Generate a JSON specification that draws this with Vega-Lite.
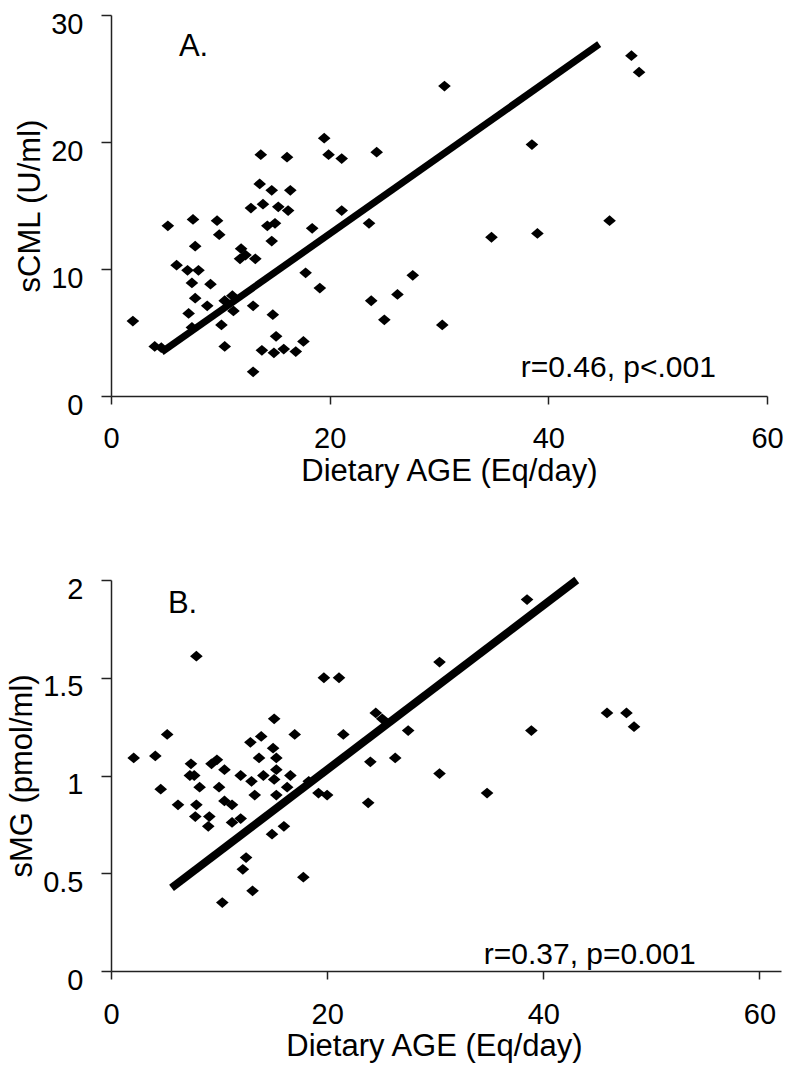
{
  "$schema": "https://vega.github.io/schema/vega-lite/v6.json",
  "background": "white",
  "padding": {"left": 6, "top": 10, "right": 6, "bottom": 4},
  "config": {
    "view": {"stroke": null},
    "font": "Liberation Sans",
    "axis": {
      "grid": false,
      "domainColor": "#222222",
      "domainWidth": 1.5,
      "tickColor": "#222222",
      "tickWidth": 1.5,
      "labelColor": "#000000",
      "titleColor": "#000000",
      "labelFont": "Liberation Sans",
      "titleFont": "Liberation Sans",
      "labelFontSize": 29,
      "titleFontSize": 31,
      "titleFontWeight": "normal",
      "labelFlush": false,
      "labelOverlap": false
    }
  },
  "datasets": {
    "a_pts": [
      {"x":2.0,"y":5.9},{"x":4.0,"y":3.9},{"x":4.6,"y":3.8},{"x":5.2,"y":13.4},{"x":6.0,"y":10.3},{"x":7.0,"y":9.9},{"x":8.0,"y":9.9},{"x":7.4,"y":8.9},{"x":9.1,"y":8.8},{"x":7.7,"y":7.7},{"x":8.8,"y":7.1},{"x":7.1,"y":6.5},{"x":7.4,"y":5.4},{"x":7.5,"y":13.9},{"x":7.7,"y":11.8},{"x":9.7,"y":13.8},{"x":9.9,"y":12.7},{"x":10.1,"y":5.6},{"x":10.4,"y":3.9},{"x":10.4,"y":7.5},{"x":11.1,"y":7.9},{"x":11.2,"y":6.7},{"x":11.9,"y":11.6},{"x":11.8,"y":10.8},{"x":12.3,"y":11.1},{"x":13.2,"y":10.8},{"x":12.8,"y":14.8},{"x":13.6,"y":16.7},{"x":13.9,"y":15.1},{"x":13.7,"y":19.0},{"x":13.0,"y":7.1},{"x":13.0,"y":1.9},{"x":13.8,"y":3.6},{"x":14.9,"y":3.4},{"x":15.1,"y":4.7},{"x":14.8,"y":6.4},{"x":15.8,"y":3.7},{"x":16.9,"y":3.5},{"x":17.6,"y":4.3},{"x":14.7,"y":16.2},{"x":16.4,"y":16.2},{"x":16.1,"y":18.8},{"x":15.3,"y":14.9},{"x":16.2,"y":14.6},{"x":14.3,"y":13.4},{"x":15.0,"y":13.6},{"x":14.7,"y":12.2},{"x":17.8,"y":9.7},{"x":18.4,"y":13.2},{"x":19.1,"y":8.5},{"x":19.5,"y":20.3},{"x":19.9,"y":19.0},{"x":21.1,"y":18.7},{"x":21.1,"y":14.6},{"x":24.3,"y":19.2},{"x":23.6,"y":13.6},{"x":23.8,"y":7.5},{"x":25.0,"y":6.0},{"x":26.2,"y":8.0},{"x":27.6,"y":9.5},{"x":30.5,"y":24.4},{"x":38.5,"y":19.8},{"x":45.6,"y":13.8},{"x":34.8,"y":12.5},{"x":39.0,"y":12.8},{"x":47.6,"y":26.8},{"x":48.3,"y":25.5},{"x":30.3,"y":5.6}
    ],
    "a_line": [{"x":4.63,"y":3.46},{"x":44.65,"y":27.7}],
    "a_text": [{"x":7.55,"y":27.5,"label":"A."}],
    "a_stat": [{"x":46.4,"y":2.2,"label":"r=0.46, p<.001"}],
    "b_pts": [
      {"x":2.1,"y":1.09},{"x":4.1,"y":1.10},{"x":5.2,"y":1.21},{"x":4.6,"y":0.93},{"x":6.2,"y":0.85},{"x":7.4,"y":1.06},{"x":7.3,"y":1.0},{"x":7.7,"y":1.0},{"x":8.2,"y":0.94},{"x":7.9,"y":0.85},{"x":7.8,"y":0.79},{"x":9.1,"y":0.79},{"x":9.0,"y":0.74},{"x":9.8,"y":1.08},{"x":9.3,"y":1.06},{"x":10.5,"y":1.03},{"x":10.0,"y":0.94},{"x":10.5,"y":0.87},{"x":11.2,"y":0.85},{"x":11.2,"y":0.76},{"x":12.0,"y":0.78},{"x":12.0,"y":1.0},{"x":13.0,"y":0.97},{"x":13.3,"y":0.90},{"x":12.9,"y":1.17},{"x":13.9,"y":1.20},{"x":13.7,"y":1.09},{"x":14.1,"y":1.0},{"x":15.1,"y":1.29},{"x":15.0,"y":1.14},{"x":15.3,"y":1.09},{"x":15.3,"y":1.03},{"x":15.1,"y":0.98},{"x":15.3,"y":0.90},{"x":16.6,"y":1.0},{"x":17.0,"y":1.21},{"x":16.3,"y":0.94},{"x":16.0,"y":0.74},{"x":14.9,"y":0.70},{"x":12.5,"y":0.58},{"x":12.2,"y":0.52},{"x":13.1,"y":0.41},{"x":10.3,"y":0.35},{"x":17.8,"y":0.48},{"x":20.0,"y":0.90},{"x":19.2,"y":0.91},{"x":18.3,"y":0.97},{"x":19.7,"y":1.50},{"x":21.1,"y":1.50},{"x":21.5,"y":1.21},{"x":7.9,"y":1.61},{"x":24.5,"y":1.32},{"x":25.1,"y":1.29},{"x":24.0,"y":1.07},{"x":23.8,"y":0.86},{"x":26.3,"y":1.09},{"x":38.5,"y":1.90},{"x":30.4,"y":1.58},{"x":27.5,"y":1.23},{"x":30.4,"y":1.01},{"x":34.8,"y":0.91},{"x":38.9,"y":1.23},{"x":45.9,"y":1.32},{"x":47.7,"y":1.32},{"x":48.4,"y":1.25}
    ],
    "b_line": [{"x":5.6,"y":0.425},{"x":43.1,"y":2.0}],
    "b_text": [{"x":6.62,"y":1.875,"label":"B."}],
    "b_stat": [{"x":44.3,"y":0.08,"label":"r=0.37, p=0.001"}]
  },
  "bounds": "flush",
  "spacing": 184,
  "vconcat": [
    {
      "width": 656,
      "height": 381,
      "encoding": {
        "x": {"field": "x", "type": "quantitative",
          "scale": {"domain": [0, 60], "nice": false, "zero": true},
          "axis": {"values": [0, 20, 40, 60], "title": "Dietary AGE (Eq/day)", "tickSize": 8, "labelPadding": 20, "titleX": 338, "titleY": 84, "titleBaseline": "alphabetic"}},
        "y": {"field": "y", "type": "quantitative",
          "scale": {"domain": [0, 30], "nice": false, "zero": true},
          "axis": {"values": [0, 10, 20, 30], "title": "sCML (U/ml)", "tickSize": 10, "labelPadding": 18, "labelOffset": 9, "titlePadding": 4}}
      },
      "layer": [
        {"data": {"name": "a_pts"}, "mark": {"type": "point", "shape": "M-1,0L0,-0.85L1,0L0,0.85Z", "filled": true, "size": 160, "color": "#000000", "opacity": 1}},
        {"data": {"name": "a_line"}, "mark": {"type": "line", "strokeWidth": 7, "color": "#000000", "strokeCap": "butt"}},
        {"data": {"name": "a_text"}, "mark": {"type": "text", "fontSize": 31, "align": "center", "baseline": "middle", "color": "#000000"}, "encoding": {"text": {"field": "label"}}},
        {"data": {"name": "a_stat"}, "mark": {"type": "text", "fontSize": 30, "align": "center", "baseline": "middle", "color": "#000000"}, "encoding": {"text": {"field": "label"}}}
      ]
    },
    {
      "width": 670,
      "height": 391,
      "encoding": {
        "x": {"field": "x", "type": "quantitative",
          "scale": {"domain": [0, 62], "nice": false, "zero": true},
          "axis": {"values": [0, 20, 40, 60], "title": "Dietary AGE (Eq/day)", "tickSize": 8, "labelPadding": 21, "titleX": 323, "titleY": 84, "titleBaseline": "alphabetic"}},
        "y": {"field": "y", "type": "quantitative",
          "scale": {"domain": [0, 2], "nice": false, "zero": true},
          "axis": {"values": [0, 0.5, 1, 1.5, 2], "format": "~g", "title": "sMG (pmol/ml)", "tickSize": 10, "labelPadding": 18, "labelOffset": 9, "titlePadding": 4}}
      },
      "layer": [
        {"data": {"name": "b_pts"}, "mark": {"type": "point", "shape": "M-1,0L0,-0.85L1,0L0,0.85Z", "filled": true, "size": 160, "color": "#000000", "opacity": 1}},
        {"data": {"name": "b_line"}, "mark": {"type": "line", "strokeWidth": 8, "color": "#000000", "strokeCap": "butt"}},
        {"data": {"name": "b_text"}, "mark": {"type": "text", "fontSize": 31, "align": "center", "baseline": "middle", "color": "#000000"}, "encoding": {"text": {"field": "label"}}},
        {"data": {"name": "b_stat"}, "mark": {"type": "text", "fontSize": 30, "align": "center", "baseline": "middle", "color": "#000000"}, "encoding": {"text": {"field": "label"}}}
      ]
    }
  ]
}
